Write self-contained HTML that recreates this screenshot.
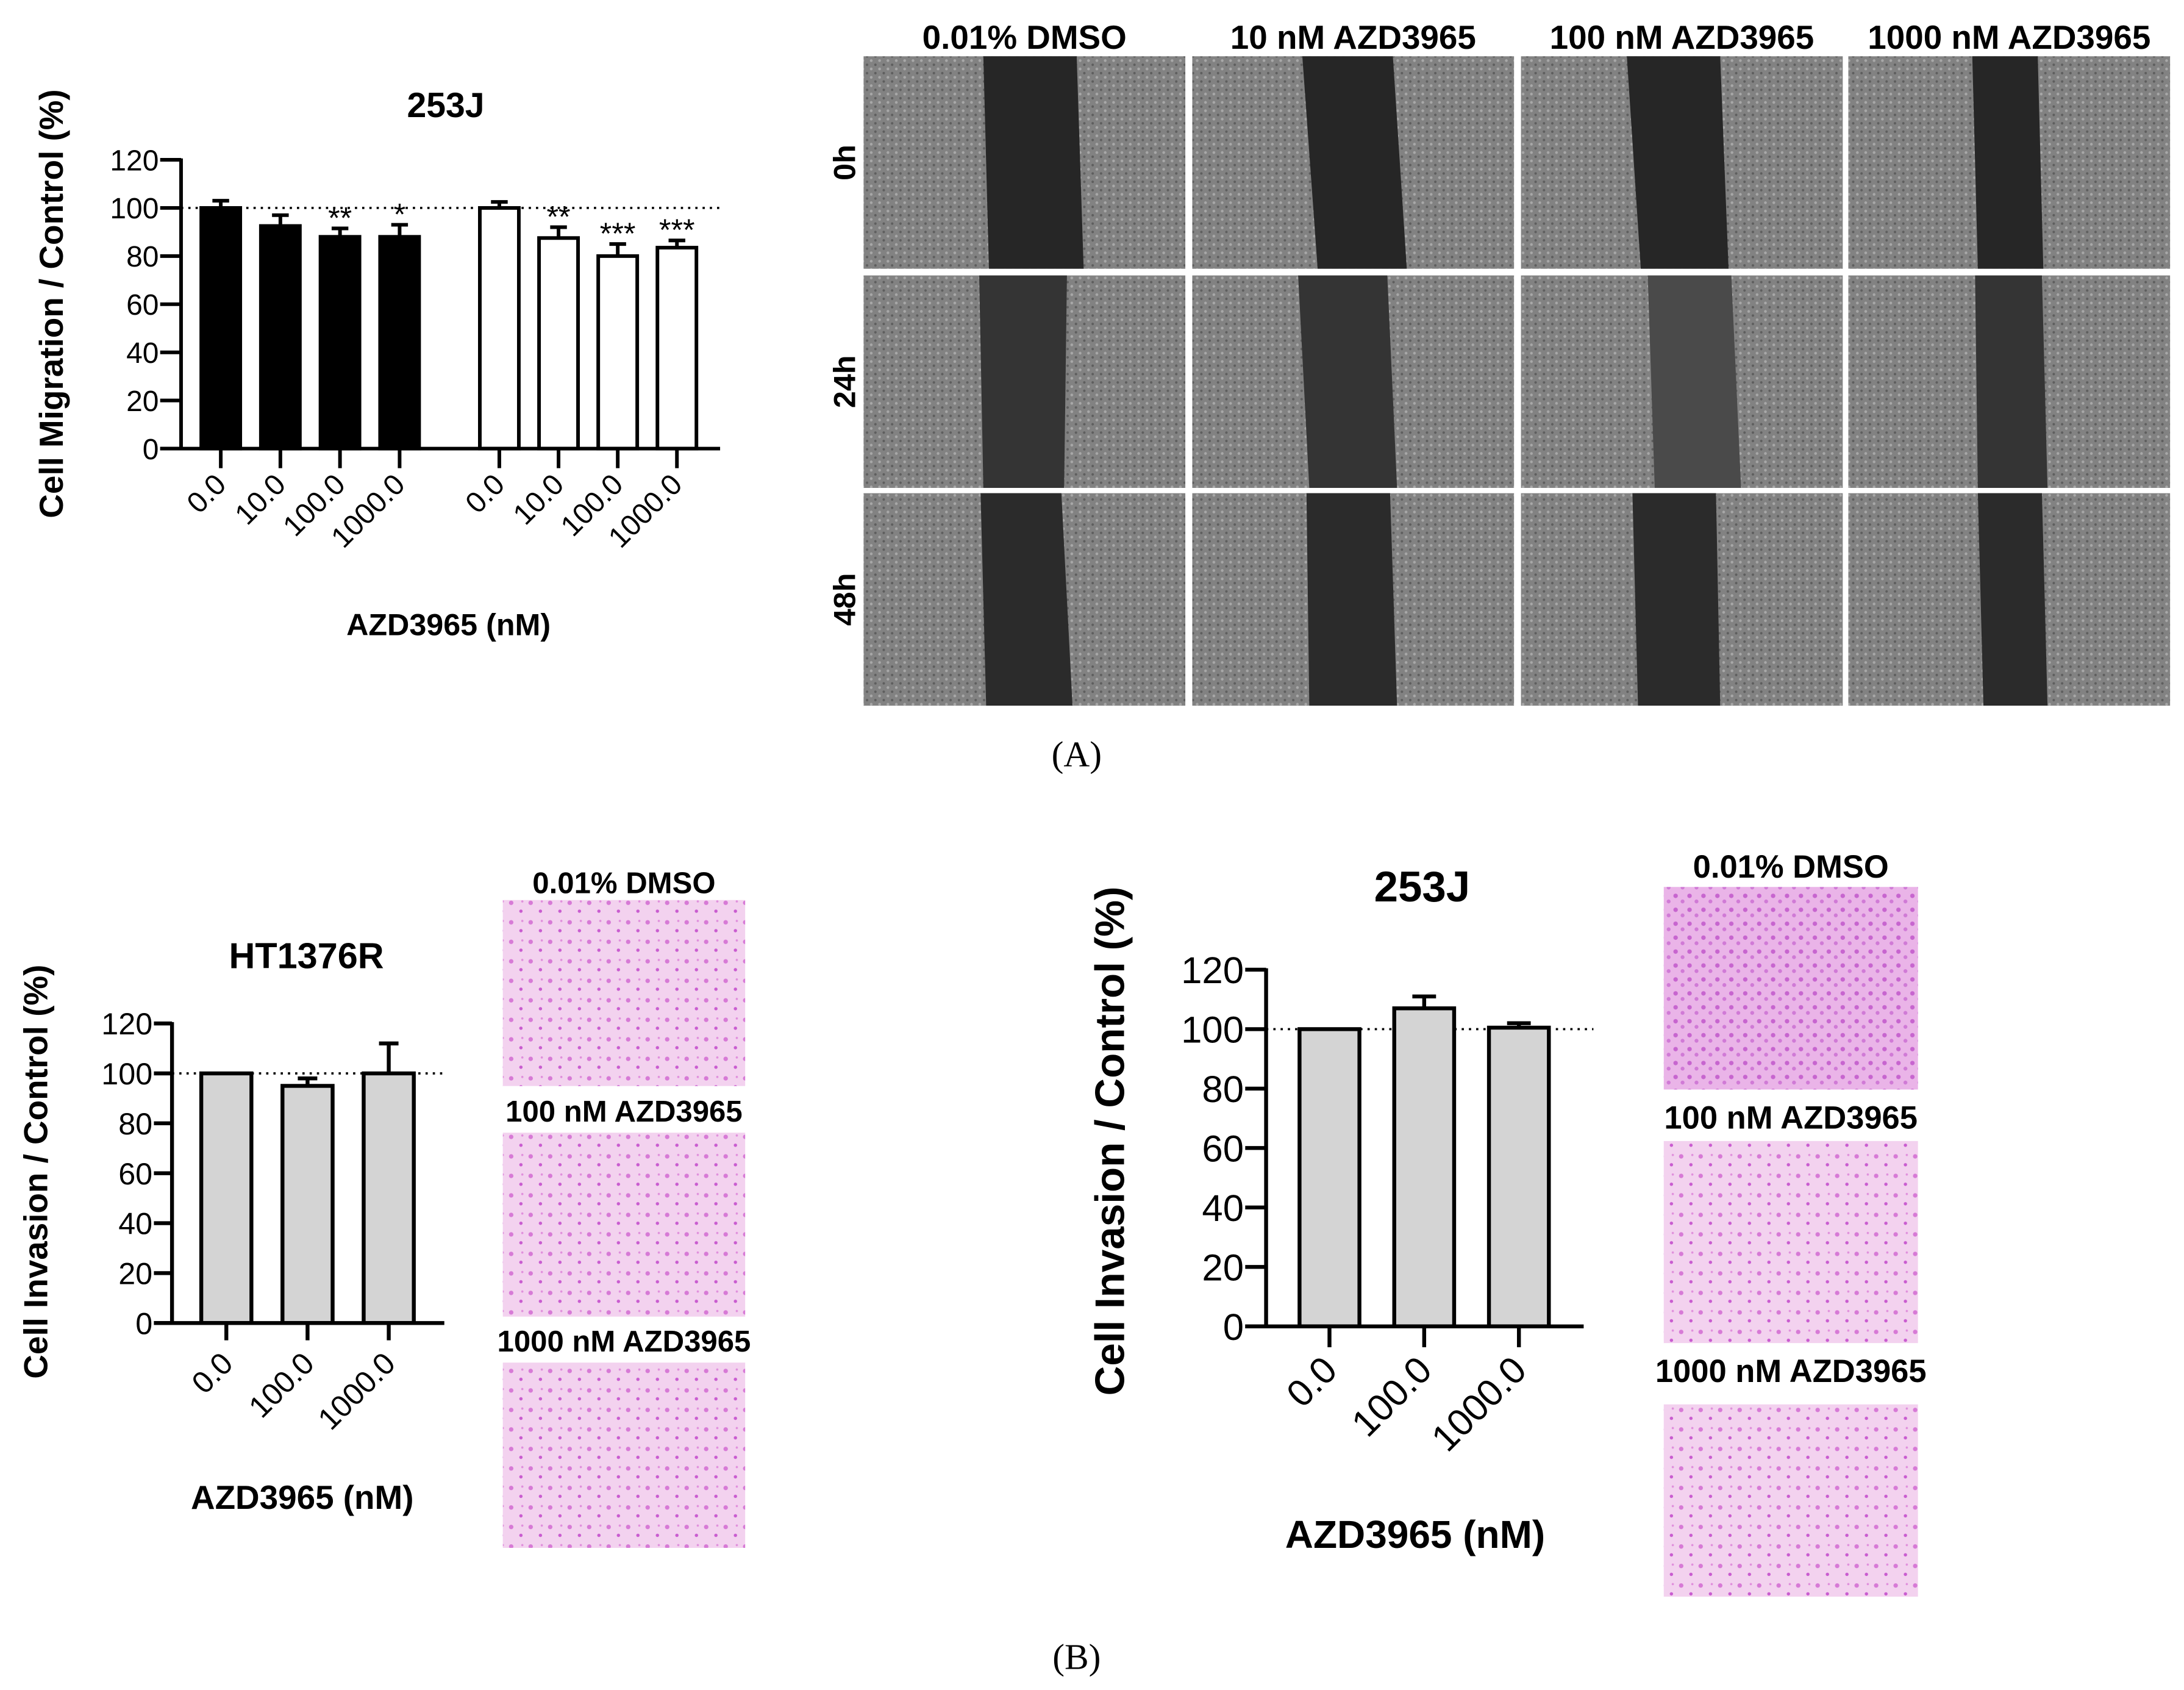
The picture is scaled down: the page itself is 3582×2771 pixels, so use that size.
<!DOCTYPE html>
<html><head><meta charset="utf-8"><style>
html,body{margin:0;padding:0;background:#fff;}
svg{display:block;font-family:"Liberation Sans",Arial,sans-serif;}
</style></head><body>
<svg id="fig" width="3582" height="2771" viewBox="0 0 1568 1213" preserveAspectRatio="none" xmlns="http://www.w3.org/2000/svg">
<defs>
<pattern id="greydots" width="6" height="6" patternUnits="userSpaceOnUse">
<rect width="6" height="6" fill="#828282"/>
<circle cx="1.5" cy="1.5" r="1" fill="#a8a8a8"/><circle cx="4.5" cy="4.5" r="0.9" fill="#5e5e5e"/>
</pattern>
<pattern id="pinkdots" width="14" height="14" patternUnits="userSpaceOnUse">
<rect width="14" height="14" fill="#f3d2ef"/>
<circle cx="3" cy="4" r="1.6" fill="#d77ad6"/><circle cx="10" cy="10" r="1.2" fill="#c95cd0"/><circle cx="11" cy="3" r="0.8" fill="#e08fdc"/>
</pattern>
<pattern id="pinkdense" width="10" height="10" patternUnits="userSpaceOnUse">
<rect width="10" height="10" fill="#eab4e8"/>
<circle cx="3" cy="3" r="1.6" fill="#c765cf"/><circle cx="8" cy="7" r="1.4" fill="#d07ad6"/>
</pattern>
</defs>
<g id="layer"></g>
</svg>
<script>
// ---------- Chart A (253J migration) data ----------
const migCategories = ["0.0","10.0","100.0","1000.0","0.0","10.0","100.0","1000.0"];
const migValues = [100, 92.5, 88, 88, 100, 87.5, 80, 83.5];
const migErrors = [103, 97, 91.5, 93, 102.5, 92, 85, 86.5];
const migStars = ["", "", "**", "*", "", "**", "***", "***"];
const migTicks = [0, 20, 40, 60, 80, 100, 120];
// ---------- Chart B1 (HT1376R invasion) ----------
const invHTCategories = ["0.0","100.0","1000.0"];
const invHTValues = [100, 95, 100];
const invHTErrors = [100, 98, 112];
// ---------- Chart B2 (253J invasion) ----------
const inv253Categories = ["0.0","100.0","1000.0"];
const inv253Values = [100, 107, 100.5];
const inv253Errors = [100, 111, 102];
const invTicks = [0, 20, 40, 60, 80, 100, 120];

const NS = "http://www.w3.org/2000/svg";
const layer = document.getElementById("layer");
function el(tag, attrs, parent) {
  const e = document.createElementNS(NS, tag);
  for (const k in attrs) e.setAttribute(k, attrs[k]);
  (parent || layer).appendChild(e);
  return e;
}
function txt(s, attrs, parent) { const t = el("text", attrs, parent); t.textContent = s; return t; }

function drawChart(o) {
  const g = el("g", {});
  
  
  const y = v => o.y0 - v * (o.y0 - o.y120) / 120;
  const ref = el("line", {x1: o.axisX, x2: o.refEnd, y1: y(100), y2: y(100), stroke: "#000", "stroke-width": 1.6, "stroke-dasharray": "1.6 3.6"}, g);
  
  
  o.values.forEach((v, i) => {
    const cx = o.centers(i);
    const top = y(v);
    const fill = o.fill(i);
    const r = el("rect", {x: cx - o.barW/2, y: top, width: o.barW, height: o.y0 - top, fill: fill, stroke: "#000", "stroke-width": o.sw}, g);
    
    
    const ey = y(o.errors[i]);
    if (o.errors[i] > v) {
      const e1 = el("path", {d: `M${cx} ${top} V${ey} M${cx - o.capW/2} ${ey} H${cx + o.capW/2}`, stroke: "#000", "stroke-width": o.sw, fill: "none"}, g);
      
      
    }
    if (o.stars && o.stars[i]) {
      const st = txt(o.stars[i], {x: cx, y: ey, "text-anchor": "middle", "font-size": 22}, g);
      
      
    }
    const tk = el("line", {x1: cx, x2: cx, y1: o.y0, y2: o.tickBottom, stroke: "#000", "stroke-width": o.aw}, g);
    
    
    const lx = cx + o.lblDx, ly = o.lblY;
    const lb = txt(o.categories[i], {x: lx, y: ly, "text-anchor": "end", "font-size": o.tickFont, transform: `rotate(-45 ${lx} ${ly})`}, g);
    
    
  });
  const ya = el("line", {x1: o.axisX, x2: o.axisX, y1: o.y120 - 1, y2: o.y0 + o.aw/2, stroke: "#000", "stroke-width": o.aw}, g);
  
  
  const xa = el("line", {x1: o.xStart, x2: o.xEnd, y1: o.y0, y2: o.y0, stroke: "#000", "stroke-width": o.aw}, g);
  
  
  o.ticks.forEach(t => {
    const tl = el("line", {x1: o.xStart, x2: o.axisX, y1: y(t), y2: y(t), stroke: "#000", "stroke-width": o.aw}, g);
    
    
    const tt = txt(String(t), {x: o.xStart - 1, y: y(t) + o.tickFont*0.36, "text-anchor": "end", "font-size": o.tickFont}, g);
    
    
  });
  const ti = txt(o.title, {x: o.titleX, y: o.titleY, "text-anchor": "middle", "font-size": o.titleFont, "font-weight": "bold"}, g);
  
  
  const yt = txt(o.yTitle, {x: o.yTitleX, y: o.yTitleY, "text-anchor": "middle", "font-size": o.yTitleFont, "font-weight": "bold", transform: `rotate(-90 ${o.yTitleX} ${o.yTitleY})`}, g);
  
  
  const xt = txt("AZD3965 (nM)", {x: o.xTitleX, y: o.xTitleY, "text-anchor": "middle", "font-size": o.xTitleFont, "font-weight": "bold"}, g);
  
  
}

drawChart({name: "migration-chart-253j", categories: migCategories, values: migValues, errors: migErrors, stars: migStars, ticks: migTicks,
  y0: 322, y120: 114.7, axisX: 130, xStart: 115, xEnd: 517, refEnd: 517, tickBottom: 336,
  centers: i => i < 4 ? 158.5 + 42.8 * i : 358.5 + 42.5 * (i - 4), barW: 28, capW: 12, sw: 2.6, aw: 2.6,
  fill: i => i < 4 ? "#000" : "#fff", lblDx: 5, lblY: 349, tickFont: 21,
  title: "253J", titleX: 320, titleY: 84, titleFont: 25,
  yTitle: "Cell Migration / Control (%)", yTitleX: 45, yTitleY: 218, yTitleFont: 24,
  xTitleX: 322, xTitleY: 456, xTitleFont: 22});

drawChart({name: "invasion-chart-ht1376r", categories: invHTCategories, values: invHTValues, errors: invHTErrors, ticks: invTicks,
  y0: 949.6, y120: 734.6, axisX: 123.5, xStart: 110.5, xEnd: 319, refEnd: 319, tickBottom: 962,
  centers: i => 162.5 + 58.3 * i, barW: 36, capW: 14, sw: 2.8, aw: 2.8,
  fill: i => "#d4d4d4", lblDx: 6, lblY: 980, tickFont: 22,
  title: "HT1376R", titleX: 220, titleY: 695, titleFont: 26,
  yTitle: "Cell Invasion / Control (%)", yTitleX: 34, yTitleY: 841, yTitleFont: 24,
  xTitleX: 217, xTitleY: 1083, xTitleFont: 24});

drawChart({name: "invasion-chart-253j", categories: inv253Categories, values: inv253Values, errors: inv253Errors, ticks: invTicks,
  y0: 952, y120: 696, axisX: 909, xStart: 894, xEnd: 1137, refEnd: 1144, tickBottom: 967,
  centers: i => 954.5 + 68 * i, barW: 43, capW: 17, sw: 2.8, aw: 2.8,
  fill: i => "#d4d4d4", lblDx: 7, lblY: 985, tickFont: 27,
  title: "253J", titleX: 1021, titleY: 647, titleFont: 31,
  yTitle: "Cell Invasion / Control (%)", yTitleX: 807, yTitleY: 819, yTitleFont: 29.5,
  xTitleX: 1016, xTitleY: 1111, xTitleFont: 28});

// ---------- Scratch-assay image grid (decorative) ----------
const colX = [620, 856, 1092, 1327];
const colW = 231;
const rowY = [40.4, 197.7, 354];
const rowH = 152.5;
const colLabels = ["0.01% DMSO","10 nM AZD3965","100 nM AZD3965","1000 nM AZD3965"];
const rowLabels = ["0h","24h","48h"];
const bands = [
  [[706,773,710,778],[935,1000,946,1010],[1168,1235,1178,1241],[1416,1463,1420,1467]],
  [[703,766,706,764],[932,996,940,1003],[1183,1243,1188,1250],[1418,1466,1420,1470]],
  [[704,762,708,770],[938,998,940,1003],[1172,1232,1176,1235],[1420,1466,1424,1470]]
];
const bandColors = ["#262626","#343434","#2b2b2b"];
const grid = el("g", {});


rowY.forEach((ry, r) => {
  colX.forEach((cx, c) => {
    const im = el("rect", {x: cx, y: ry, width: colW, height: rowH, fill: "url(#greydots)"}, grid);
    
    
    const b = bands[r][c];
    const col = (r===1 && c===2) ? "#4a4a4a" : bandColors[r];
    const p = el("polygon", {points: `${b[0]},${ry} ${b[1]},${ry} ${b[3]},${ry+rowH} ${b[2]},${ry+rowH}`, fill: col}, grid);
    
    
  });
});
colLabels.forEach((s, c) => {
  const t = txt(s, {x: colX[c] + colW/2, y: 35, "text-anchor": "middle", "font-size": 24, "font-weight": "bold"}, grid);
  
  
});
rowLabels.forEach((s, r) => {
  const x = 614, yy = rowY[r] + rowH/2;
  const t = txt(s, {x: x, y: yy, "text-anchor": "middle", "font-size": 22, "font-weight": "bold", transform: `rotate(-90 ${x} ${yy})`}, grid);
  
  
});

// ---------- Transwell images ----------
function transwell(name, x, w, rows, labels, labelYs, fontSize) {
  const g = el("g", {});
  
  
  rows.forEach((rr, i) => {
    const r = el("rect", {x: x, y: rr[0], width: w, height: rr[1] - rr[0], fill: rr[2]}, g);
    
    
    const t = txt(labels[i], {x: x + w/2, y: labelYs[i], "text-anchor": "middle", "font-size": fontSize, "font-weight": "bold"}, g);
    
    
  });
  return g;
}
const twLabels = ["0.01% DMSO","100 nM AZD3965","1000 nM AZD3965"];
transwell("transwell-ht1376r", 361, 174, [[646,779.5,"url(#pinkdots)"],[813,945,"url(#pinkdots)"],[978,1111,"url(#pinkdots)"]], twLabels, [641, 805, 970], 21.5);
transwell("transwell-253j", 1194.5, 182.5, [[636.6,782,"url(#pinkdense)"],[819,964,"url(#pinkdots)"],[1008,1146,"url(#pinkdots)"]], twLabels, [630, 810, 992], 23);

const pa = txt("(A)", {x: 773, y: 550, "text-anchor": "middle", "font-size": 26, "font-family": "Liberation Serif, serif"});


const pb = txt("(B)", {x: 773, y: 1198, "text-anchor": "middle", "font-size": 26, "font-family": "Liberation Serif, serif"});


</script>
</body></html>
